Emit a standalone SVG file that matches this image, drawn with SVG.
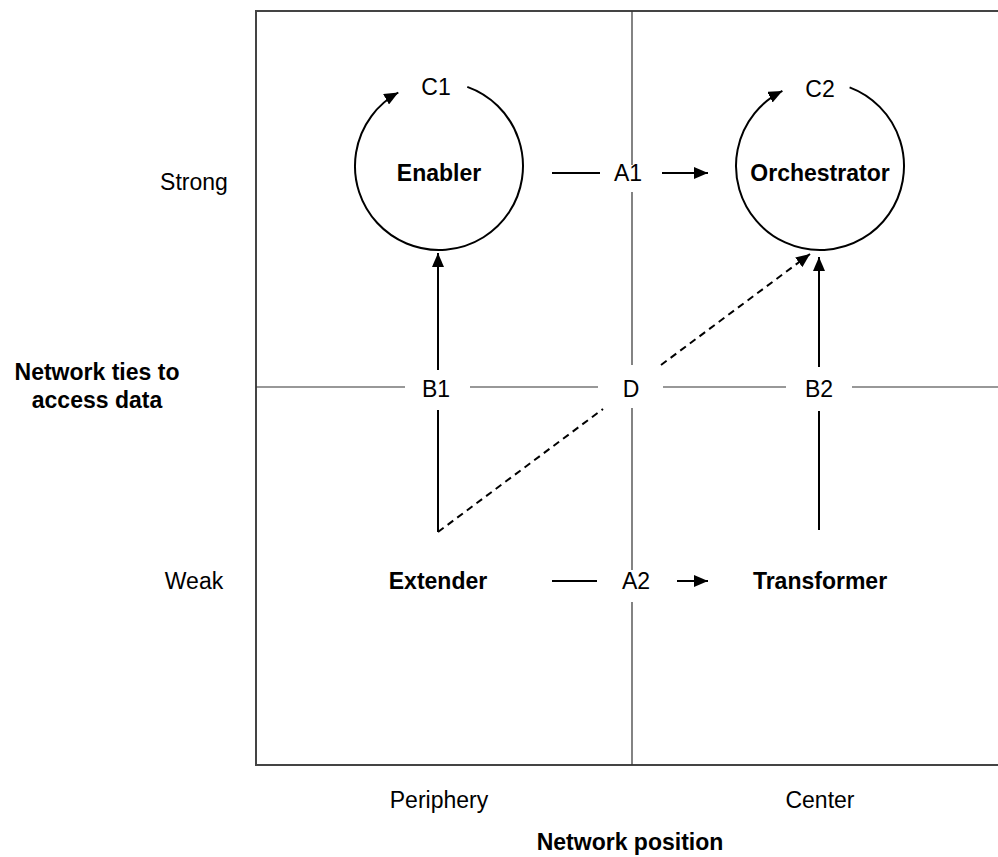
<svg xmlns="http://www.w3.org/2000/svg" width="998" height="857" viewBox="0 0 998 857">
<style>
text{font-family:"Liberation Sans",Arial,sans-serif;font-size:23px;fill:#000;text-anchor:middle}
.b{font-weight:bold}
.frame{stroke:#444;stroke-width:2;fill:none}
.grid{stroke:#333;stroke-width:1.2;fill:none}
.ln{stroke:#000;stroke-width:2;fill:none}
.dash{stroke:#000;stroke-width:2;fill:none;stroke-dasharray:7,5}
</style>
<defs>
<marker id="ah" markerUnits="userSpaceOnUse" markerWidth="15" markerHeight="12" refX="14" refY="6" orient="auto">
<path d="M0,0 L14,6 L0,12 z" fill="#000"/>
</marker>
</defs>
<rect width="998" height="857" fill="#fff"/>
<g id="frame">
<path class="frame" d="M998,11 H256 V765 H998"/>
<path class="grid" d="M256,387 H405 M470,387 H598 M663,387 H786 M852,387 H998"/>
<path class="grid" d="M632,11 V165 M632,192 V365 M632,408 V570 M632,602 V765"/>
</g>
<g id="axis-labels">
<text x="194" y="190">Strong</text>
<text x="194" y="589">Weak</text>
<text class="b" x="97" y="380">Network ties to</text>
<text class="b" x="97" y="408">access data</text>
<text x="439" y="808">Periphery</text>
<text x="820" y="808">Center</text>
<text class="b" x="630" y="850">Network position</text>
</g>
<g id="enabler">
<path class="ln" d="M467.3,86.9 A84,84 0 1 1 398.3,92.5" marker-end="url(#ah)"/>
<text x="436" y="95">C1</text>
<text class="b" x="439" y="181">Enabler</text>
</g>
<g id="orchestrator">
<path class="ln" d="M849.6,87.4 A84,84 0 1 1 782.4,90.9" marker-end="url(#ah)"/>
<text x="820" y="97">C2</text>
<text class="b" x="820" y="181">Orchestrator</text>
</g>
<g id="extender">
<text class="b" x="438" y="589">Extender</text>
</g>
<g id="transformer">
<text class="b" x="820" y="589">Transformer</text>
</g>
<g id="connectors">
<path class="ln" d="M552,173 H600"/>
<path class="ln" d="M662,173 H708" marker-end="url(#ah)"/>
<text x="628" y="181">A1</text>
<path class="ln" d="M552,581 H597"/>
<path class="ln" d="M677,581 H708" marker-end="url(#ah)"/>
<text x="636" y="589">A2</text>
<path class="ln" d="M438,532 V410"/>
<path class="ln" d="M438,370 V253" marker-end="url(#ah)"/>
<text x="436" y="397">B1</text>
<path class="ln" d="M819,530 V411"/>
<path class="ln" d="M819,367 V257" marker-end="url(#ah)"/>
<text x="819" y="397">B2</text>
<path class="dash" d="M438,532 L603,409"/>
<path class="dash" d="M661,365 L810,254" marker-end="url(#ah)"/>
<text x="631" y="397">D</text>
</g>
</svg>
